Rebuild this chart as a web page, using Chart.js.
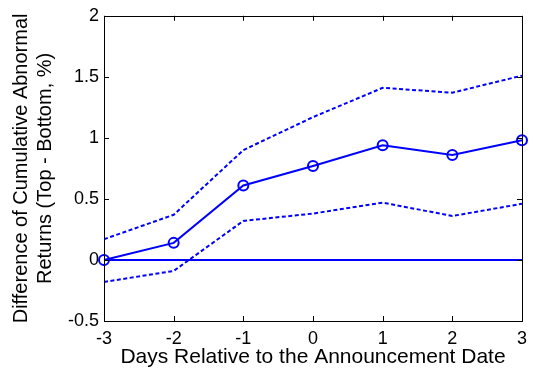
<!DOCTYPE html>
<html>
<head>
<meta charset="utf-8">
<script src="https://cdn.jsdelivr.net/npm/chart.js@4/dist/chart.umd.min.js"></script>
<style>
  html, body { margin: 0; padding: 0; background: #fff; }
  #wrap { width: 534px; height: 375px; }
</style>
</head>
<body>
<div id="wrap"><canvas id="car"></canvas></div>
<script>
// event days and the top-minus-bottom CAR difference, with its bands
const days = [-3, -2, -1, 0, 1, 2, 3]
const carDiff = [0, 0.14, 0.61, 0.77, 0.94, 0.86, 0.98]
const upperBand = [0.17, 0.37, 0.90, 1.17, 1.41, 1.37, 1.51]
const lowerBand = [-0.18, -0.09, 0.32, 0.38, 0.47, 0.36, 0.46]
const zeroLine = [0, 0]
const zeroDays = [-3, 3]

const yTicks = [-0.5, 0, 0.5, 1, 1.5, 2]
const xTicks = [-3, -2, -1, 0, 1, 2, 3]

const BLUE = '#0000ff'
const FONT = 'Liberation Sans, Arial, Helvetica, sans-serif'

const toPoints = (xs, ys) => xs.map((x, i) => ({ x, y: ys[i] }))

// matlab style box with inward ticks on all four sides
const boxTicks = {
  id: 'boxTicks',
  afterDraw (chart) {
    const { ctx, chartArea: a, scales: { x, y } } = chart
    const len = 5
    ctx.save()
    ctx.strokeStyle = '#000'
    ctx.lineWidth = 1
    ctx.beginPath()
    xTicks.forEach(v => {
      const px = Math.round(x.getPixelForValue(v)) + 0.5
      ctx.moveTo(px, a.bottom); ctx.lineTo(px, a.bottom - len)
      ctx.moveTo(px, a.top); ctx.lineTo(px, a.top + len)
    })
    yTicks.forEach(v => {
      const py = Math.round(y.getPixelForValue(v)) + 0.5
      ctx.moveTo(a.left, py); ctx.lineTo(a.left + len, py)
      ctx.moveTo(a.right, py); ctx.lineTo(a.right - len, py)
    })
    ctx.stroke()
    ctx.strokeRect(Math.round(a.left) + 0.5, Math.round(a.top) + 0.5,
      Math.round(a.right - a.left), Math.round(a.bottom - a.top))
    ctx.restore()
  }
}

new Chart('car', {
  type: 'line',
  data: {
    datasets: [
      {
        data: toPoints(days, carDiff),
        borderColor: BLUE,
        borderWidth: 2,
        pointRadius: 5,
        pointBorderWidth: 2,
        pointBorderColor: BLUE,
        pointBackgroundColor: 'rgba(0,0,0,0)',
        clip: false
      },
      {
        data: toPoints(days, upperBand),
        borderColor: BLUE,
        borderWidth: 2,
        borderDash: [4, 2.5],
        pointRadius: 0
      },
      {
        data: toPoints(days, lowerBand),
        borderColor: BLUE,
        borderWidth: 2,
        borderDash: [4, 2.5],
        pointRadius: 0
      },
      {
        data: toPoints(zeroDays, zeroLine),
        borderColor: BLUE,
        borderWidth: 2,
        pointRadius: 0
      }
    ]
  },
  options: {
    responsive: true,
    maintainAspectRatio: false,
    animation: false,
    layout: { padding: { top: 13, right: 7, left: 0, bottom: 0 } },
    plugins: { legend: { display: false }, tooltip: { enabled: false } },
    scales: {
      x: {
        type: 'linear',
        min: -3,
        max: 3,
        afterFit: scale => { scale.height = 54 },
        afterBuildTicks: scale => { scale.ticks = xTicks.map(value => ({ value })) },
        grid: { display: false, drawTicks: false },
        border: { display: false },
        ticks: { color: '#000', padding: 7, font: { family: FONT, size: 18 }, callback: v => String(v) },
        title: {
          display: true,
          text: 'Days Relative to the Announcement Date',
          color: '#000',
          padding: { top: 0, bottom: 5 },
          font: { family: FONT, size: 21, lineHeight: 1.2 }
        }
      },
      y: {
        min: -0.5,
        max: 2,
        afterFit: scale => { scale.width = 104 },
        afterBuildTicks: scale => { scale.ticks = yTicks.map(value => ({ value })) },
        grid: { display: false, drawTicks: false },
        border: { display: false },
        ticks: { color: '#000', padding: 5, font: { family: FONT, size: 18 }, callback: v => String(v) },
        title: {
          display: true,
          text: ['Difference of Cumulative Abnormal', 'Returns (Top - Bottom, %)'],
          color: '#000',
          padding: { top: 10, bottom: 0 },
          font: { family: FONT, size: 20, lineHeight: 1.17 }
        }
      }
    }
  },
  plugins: [boxTicks]
})
</script>
</body>
</html>
